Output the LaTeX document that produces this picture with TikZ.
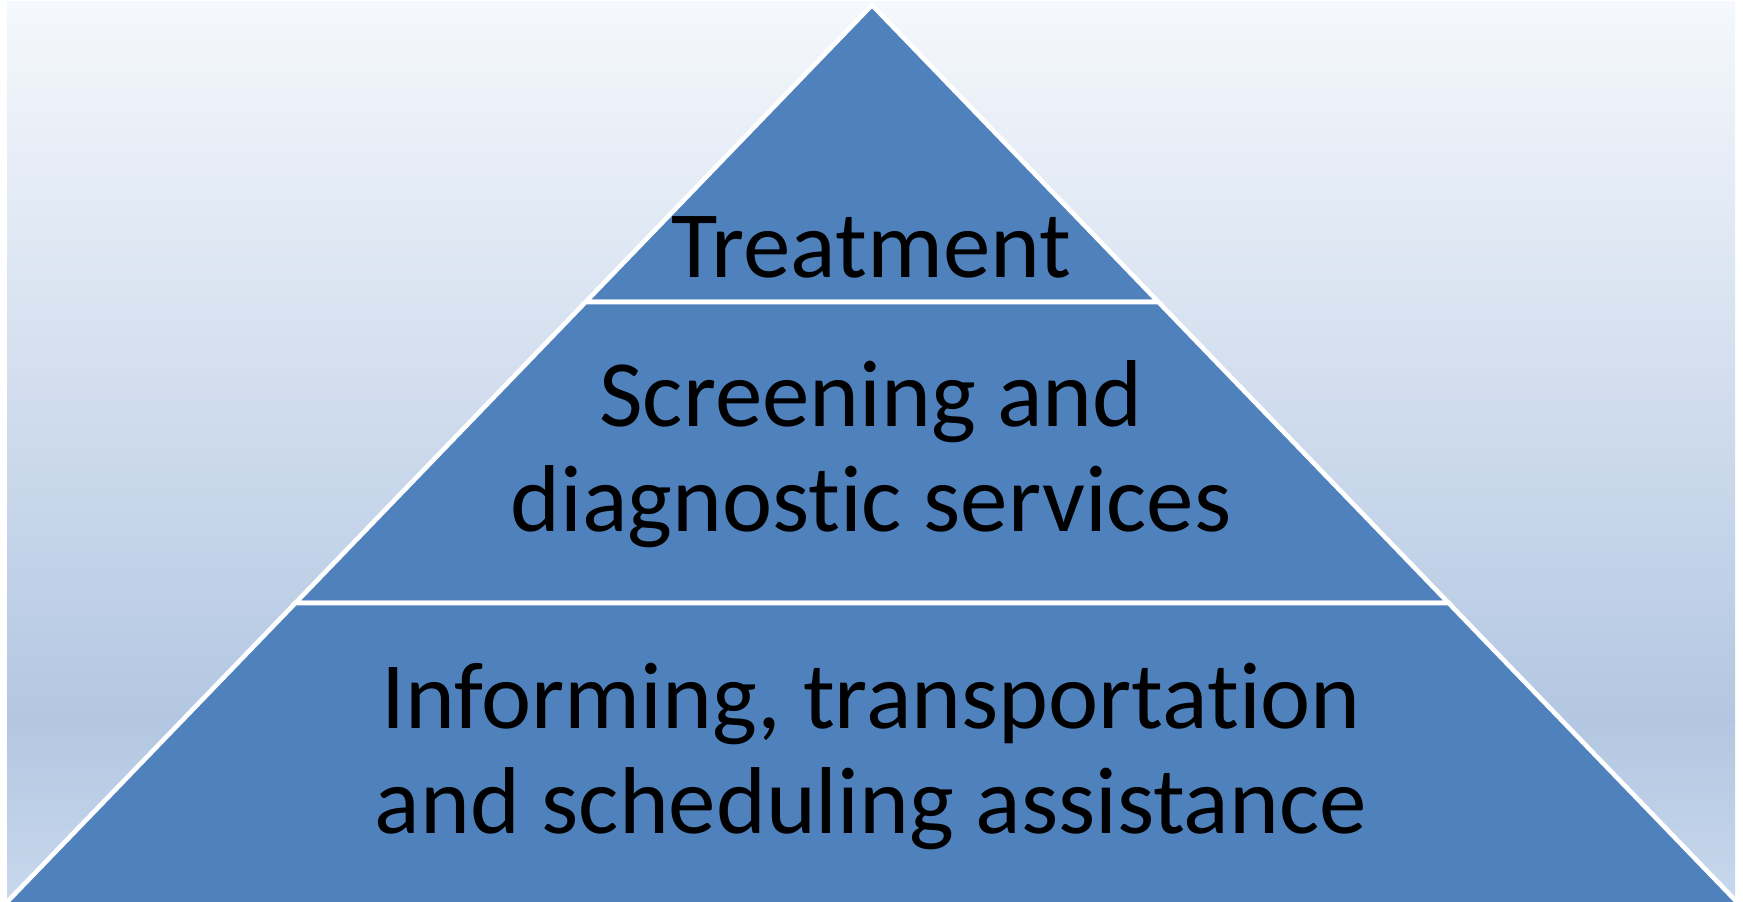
\documentclass[tikz,border=0pt]{standalone}
\usepackage{fontspec}
\setmainfont[Ligatures=NoCommon]{Carlito}
\definecolor{pyrblue}{HTML}{4F81BD}
\definecolor{bgtop}{HTML}{F5F8FC}
\definecolor{bgmid}{HTML}{B3C7E2}
\definecolor{bgbot}{HTML}{C8D8EC}
\begin{document}
\begin{tikzpicture}[x=0.5pt,y=0.5pt,
  layer/.style={fill=pyrblue,draw=white,line width=2.3pt,line join=miter},
  lvltext/.style={align=center,anchor=base,inner sep=0pt,font=\fontsize{47.5}{52.5}\selectfont,text=black}]
\useasboundingbox (0,0) rectangle (1743,901);
% background gradient
\shade[top color=bgtop,bottom color=bgmid] (7,180) rectangle (1735,899);
\shade[top color=bgmid,bottom color=bgbot] (7,0) rectangle (1735,180.5);
% geometry
\coordinate (apex) at (872,896);
\coordinate (l1) at (585.6,599);
\coordinate (r1) at (1158.4,599);
\coordinate (l2) at (295.4,298);
\coordinate (r2) at (1448.6,298);
\coordinate (bl) at (3.2,-5);
\coordinate (br) at (1740.8,-5);
% layers
\path[layer] (apex) -- (r1) -- (l1) -- cycle;
\path[layer] (l1) -- (r1) -- (r2) -- (l2) -- cycle;
\path[layer] (l2) -- (r2) -- (br) -- (bl) -- cycle;
% texts (base anchor = baseline of the last line)
\node[lvltext] (top) at (871,624) {Treatment};
\node[lvltext] (mid) at (871,370) {Screening and\\diagnostic services};
\node[lvltext] (bot) at (871,68) {Informing, transportation\\and scheduling assistance};
\end{tikzpicture}
\end{document}
